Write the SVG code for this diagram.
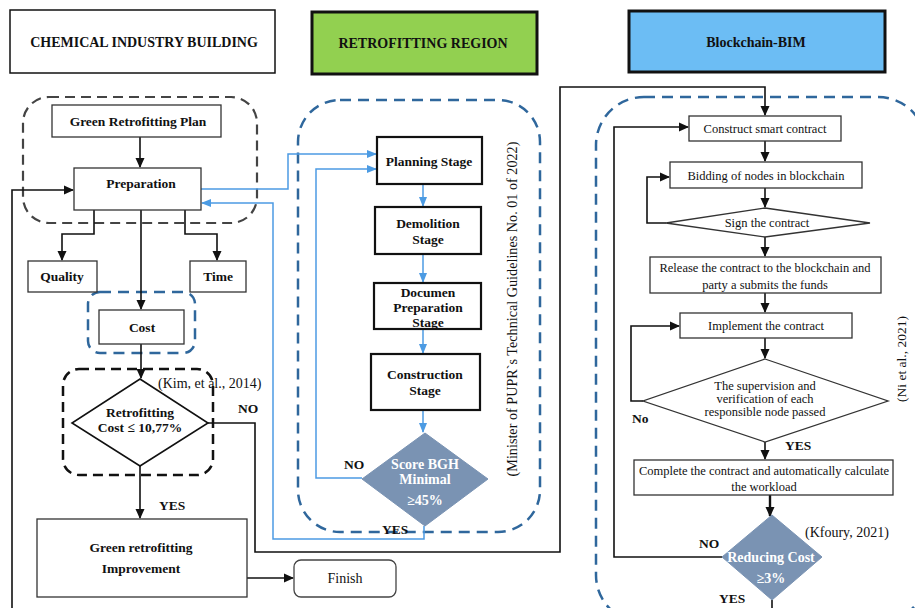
<svg xmlns="http://www.w3.org/2000/svg" width="915" height="608" viewBox="0 0 915 608">
<style>
text{font-family:"Liberation Serif","DejaVu Serif","Times New Roman",serif;fill:#111;}
.b{font-weight:bold;font-size:13.5px;}
.h{font-weight:bold;font-size:14px;}
.r{font-size:12.5px;}
.w{fill:#fff;font-weight:bold;font-size:14px;}
.box{fill:#fff;stroke:#333;stroke-width:1.3;}
.tbox{fill:#fff;stroke:#111;stroke-width:2.2;}
.ln{fill:none;stroke:#111;stroke-width:1.6;}
.bl{fill:none;stroke:#4c9be3;stroke-width:1.5;}
.dsh{fill:none;stroke:#2f679c;stroke-width:2.5;stroke-dasharray:11,7;}
.dk{fill:none;stroke:#444;stroke-width:2.2;stroke-dasharray:10,6;}
.dia{fill:#7a93b3;stroke:#7a93b3;}
</style>
<defs>
<marker id="ab" markerUnits="userSpaceOnUse" markerWidth="10" markerHeight="10" refX="9" refY="5" orient="auto"><path d="M0,0.5 L10,5 L0,9.5 z" fill="#111"/></marker>
<marker id="au" markerUnits="userSpaceOnUse" markerWidth="10" markerHeight="10" refX="9" refY="5" orient="auto"><path d="M0,1 L10,5 L0,9 z" fill="#4c9be3"/></marker>
</defs>
<rect width="915" height="608" fill="#fff"/>

<!-- headers -->
<g id="hdr-chemical"><rect x="10" y="10" width="265" height="63" fill="#fff" stroke="#111" stroke-width="1.5"/><text class="h" x="144" y="47" text-anchor="middle">CHEMICAL INDUSTRY BUILDING</text></g>
<g id="hdr-retro"><rect x="312" y="12" width="225" height="62" fill="#92d050" stroke="#111" stroke-width="3"/><text class="h" x="423" y="48" text-anchor="middle">RETROFITTING REGION</text></g>
<g id="hdr-bim"><rect x="629" y="11" width="256" height="61" fill="#6cbdf4" stroke="#111" stroke-width="3"/><text class="h" x="756" y="47" text-anchor="middle">Blockchain-BIM</text></g>

<!-- regions -->
<g id="regions">
<rect class="dk" x="23" y="97" width="234" height="126" rx="26"/>
<rect class="dsh" x="88" y="292" width="107" height="61" rx="12"/>
<rect x="63" y="369" width="150" height="106" rx="16" fill="none" stroke="#111" stroke-width="2.5" stroke-dasharray="10,6"/>
<rect class="dsh" x="298" y="100" width="242" height="432" rx="42"/>
<rect class="dsh" x="596" y="97" width="330" height="526" rx="48"/>
</g>

<!-- connectors -->
<g id="connectors">
<path class="ln" d="M140,137 V167" marker-end="url(#ab)"/>
<path class="ln" d="M94,210 V234 H62 V260" marker-end="url(#ab)"/>
<path class="ln" d="M185,210 V234 H217 V260" marker-end="url(#ab)"/>
<path class="ln" d="M141,210 V309" marker-end="url(#ab)"/>
<path class="ln" d="M141,344 V378" marker-end="url(#ab)"/>
<path class="ln" d="M140,466 V518" marker-end="url(#ab)"/>
<path class="ln" d="M247,578 H293" marker-end="url(#ab)"/>
<path class="ln" d="M12,608 V190 H73" marker-end="url(#ab)"/>
<path class="ln" d="M208,423 H255 V552 H560 V87 H765 V115" marker-end="url(#ab)"/>
<path class="bl" d="M201,189 H288 V154 H376" marker-end="url(#au)"/>
<path class="bl" d="M362,478 H316 V169 H376" marker-end="url(#au)"/>
<path class="bl" d="M424,526 V539 H273 V203 H202" marker-end="url(#au)"/>
<path class="bl" d="M423,184 V206" marker-end="url(#au)"/>
<path class="bl" d="M423,254 V282" marker-end="url(#au)"/>
<path class="bl" d="M423,329 V353" marker-end="url(#au)"/>
<path class="bl" d="M423,410 V432" marker-end="url(#au)"/>
<path class="ln" d="M765,141 V161" marker-end="url(#ab)"/>
<path class="ln" d="M765,188 V207" marker-end="url(#ab)"/>
<path class="ln" d="M666,223 H647 V177 H669" marker-end="url(#ab)"/>
<path class="ln" d="M765,237 V256" marker-end="url(#ab)"/>
<path class="ln" d="M765,293 V312" marker-end="url(#ab)"/>
<path class="ln" d="M765,338 V358" marker-end="url(#ab)"/>
<path class="ln" d="M643,401 H631 V326 H679" marker-end="url(#ab)"/>
<path class="ln" d="M765,442 V459" marker-end="url(#ab)"/>
<path d="M770,495 V516" fill="none" stroke="#111" stroke-width="2.4" marker-end="url(#ab)"/>
<path class="ln" d="M722,557 H614 V127 H688" marker-end="url(#ab)"/>
<path class="ln" d="M772,600 V608"/>
</g>

<!-- left column nodes -->
<g id="plan"><rect class="box" x="52" y="105" width="169" height="32"/><text class="b" x="138" y="126" text-anchor="middle">Green Retrofitting Plan</text></g>
<g id="preparation"><rect class="box" x="74" y="168" width="127" height="42"/><text class="b" x="141" y="188" text-anchor="middle">Preparation</text></g>
<g id="quality"><rect class="box" x="28" y="261" width="69" height="31"/><text class="b" x="62" y="281" text-anchor="middle">Quality</text></g>
<g id="time"><rect class="box" x="190" y="261" width="56" height="31"/><text class="b" x="218" y="281" text-anchor="middle">Time</text></g>
<g id="cost"><rect class="box" x="99" y="310" width="85" height="34"/><text class="b" x="142" y="332" text-anchor="middle">Cost</text></g>
<g id="cost-decision"><path d="M140,379 L208,423 L140,466 L72,423 Z" fill="#fff" stroke="#111" stroke-width="1.6"/><text class="b" x="140" y="417" text-anchor="middle">Retrofitting</text><text class="b" x="140" y="432" text-anchor="middle">Cost ≤ 10,77%</text></g>
<g id="improvement"><rect class="box" x="37" y="519" width="210" height="78"/><text class="b" x="141" y="552" text-anchor="middle">Green retrofitting</text><text class="b" x="141" y="573" text-anchor="middle">Improvement</text></g>
<g id="finish"><rect x="294" y="560" width="102" height="37" rx="7" fill="#fff" stroke="#444" stroke-width="1.3"/><text x="345" y="583" text-anchor="middle" font-size="14">Finish</text></g>
<g id="labels-left">
<text x="158" y="388" font-size="14">(Kim, et al., 2014)</text>
<text class="b" x="238" y="413">NO</text>
<text class="b" x="159" y="510">YES</text>
</g>

<!-- middle nodes -->
<g id="planning"><rect class="tbox" x="377" y="137" width="105" height="47"/><text class="b" x="429" y="166" text-anchor="middle">Planning Stage</text></g>
<g id="demolition"><rect class="tbox" x="375" y="207" width="106" height="47"/><text class="b" x="428" y="228" text-anchor="middle">Demolition</text><text class="b" x="428" y="244" text-anchor="middle">Stage</text></g>
<g id="documen"><rect class="tbox" x="374" y="283" width="107" height="46"/><text class="b" x="428" y="297" text-anchor="middle">Documen</text><text class="b" x="428" y="312" text-anchor="middle">Preparation</text><text class="b" x="428" y="327" text-anchor="middle">Stage</text></g>
<g id="construction"><rect class="tbox" x="371" y="354" width="109" height="56"/><text class="b" x="425" y="379" text-anchor="middle">Construction</text><text class="b" x="425" y="395" text-anchor="middle">Stage</text></g>
<g id="score"><path class="dia" d="M425,433 L488,479 L425,526 L362,479 Z"/><text class="w" x="425" y="469" text-anchor="middle">Score BGH</text><text class="w" x="425" y="484" text-anchor="middle">Minimal</text><text class="w" x="425" y="505" text-anchor="middle">≥45%</text></g>
<g id="labels-mid">
<text class="b" x="344" y="469">NO</text>
<text class="b" x="382" y="534">YES</text>
<text x="517" y="309" font-size="14.2" text-anchor="middle" transform="rotate(-90 517 309)">(Minister of  PUPR`s Technical Guidelines  No. 01 of  2022)</text>
</g>

<!-- right nodes -->
<g id="construct"><rect class="box" x="689" y="116" width="152" height="25"/><text class="r" x="765" y="133" text-anchor="middle">Construct smart contract</text></g>
<g id="bidding"><rect class="box" x="670" y="162" width="192" height="26"/><text class="r" x="766" y="180" text-anchor="middle">Bidding of nodes in blockchain</text></g>
<g id="sign"><path d="M765,208 L870,223 L765,237 L666,223 Z" fill="#fff" stroke="#333" stroke-width="1.3"/><text class="r" x="767" y="227" text-anchor="middle">Sign the contract</text></g>
<g id="release"><rect class="box" x="650" y="257" width="231" height="36"/><text class="r" x="765" y="272" text-anchor="middle">Release the contract to the blockchain and</text><text class="r" x="765" y="289" text-anchor="middle">party a submits the funds</text></g>
<g id="implement"><rect class="box" x="680" y="313" width="172" height="25"/><text class="r" x="766" y="330" text-anchor="middle">Implement the contract</text></g>
<g id="supervision"><path d="M765,359 L888,401 L765,442 L643,401 Z" fill="#fff" stroke="#333" stroke-width="1.3"/><text class="r" x="765" y="390" text-anchor="middle">The supervision and</text><text class="r" x="765" y="403" text-anchor="middle">verification of each</text><text class="r" x="765" y="416" text-anchor="middle">responsible node passed</text></g>
<g id="complete"><rect class="box" x="634" y="460" width="259" height="35"/><text class="r" x="764" y="475" text-anchor="middle">Complete the contract and automatically calculate</text><text class="r" x="764" y="491" text-anchor="middle">the workload</text></g>
<g id="reducing"><path class="dia" d="M772,515 L822,557 L772,600 L722,557 Z"/><text class="w" x="771" y="562" text-anchor="middle">Reducing Cost</text><text class="w" x="771" y="583" text-anchor="middle">≥3%</text></g>
<g id="labels-right">
<text class="b" x="632" y="423">No</text>
<text class="b" x="785" y="450">YES</text>
<text class="b" x="699" y="548">NO</text>
<text class="b" x="719" y="603">YES</text>
<text x="805" y="537" font-size="14">(Kfoury, 2021)</text>
<text x="906" y="359" font-size="13.5" text-anchor="middle" transform="rotate(-90 906 359)">(Ni et al., 2021)</text>
</g>
</svg>
